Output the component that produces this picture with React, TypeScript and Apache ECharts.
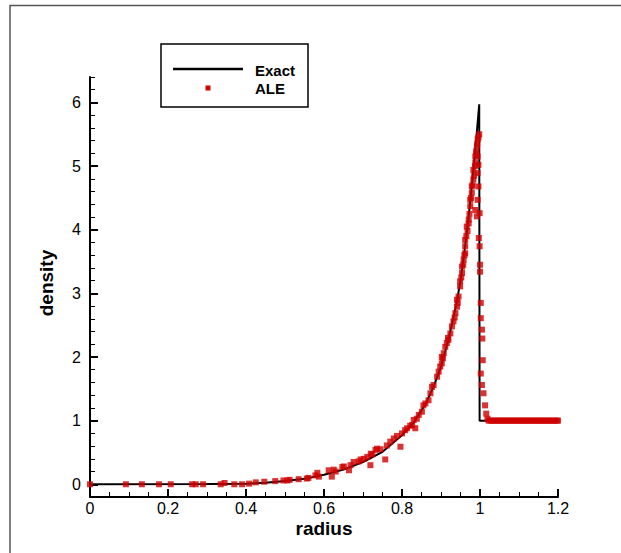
import React, { useEffect, useRef } from "react";
import * as echarts from "echarts";

const W = 621;
const H = 553;

// Axis ranges / ticks
const X_MIN = 0;
const X_MAX = 1.2;
const X_STEP = 0.2;
const Y_MIN = -0.2;
const Y_MAX = 6.4;
const Y_MINOR_STEP = 0.2;
const Y_MAJOR_STEP = 1;
const Y_MAJOR_TOP = 6;

const X_TITLE = "radius";
const Y_TITLE = "density";
const LEGEND_EXACT = "Exact";
const LEGEND_ALE = "ALE";

// Exact solution
const exactR = [0, 0.3, 0.4, 0.45, 0.5, 0.55, 0.6, 0.65, 0.7, 0.75, 0.8, 0.83, 0.86, 0.88, 0.9, 0.92, 0.94, 0.95, 0.96, 0.97, 0.98, 0.99, 0.998, 0.999, 1.2];
const exactRho = [0, 0.003, 0.01, 0.025, 0.05, 0.085, 0.15, 0.23, 0.35, 0.51, 0.77, 0.97, 1.26, 1.52, 1.85, 2.3, 2.85, 3.2, 3.65, 4.15, 4.75, 5.4, 5.97, 1.0, 1.0];

// ALE numerical points [radius, density]
const aleCore: [number, number][] = [
  [0, 0], [0.092, 0], [0.133, 0], [0.177, 0], [0.207, 0], [0.262, 0], [0.271, 0], [0.29, 0],
  [0.335, 0], [0.345, 0.02], [0.37, 0], [0.39, 0], [0.408, 0.01], [0.425, 0.03], [0.447, 0.04],
  [0.475, 0.05], [0.496, 0.06], [0.506, 0.06], [0.512, 0.07], [0.535, 0.08], [0.556, 0.09],
  [0.56, 0.1], [0.578, 0.14], [0.583, 0.18], [0.587, 0.12], [0.612, 0.22], [0.62, 0.12],
  [0.625, 0.23], [0.63, 0.2], [0.647, 0.27], [0.651, 0.28], [0.664, 0.22], [0.668, 0.3],
  [0.676, 0.35], [0.689, 0.36], [0.694, 0.39], [0.702, 0.4], [0.711, 0.43], [0.719, 0.3],
  [0.72, 0.48], [0.724, 0.47], [0.732, 0.54], [0.736, 0.56], [0.745, 0.55], [0.757, 0.39],
  [0.761, 0.61], [0.77, 0.67], [0.779, 0.72], [0.787, 0.76], [0.796, 0.59], [0.8, 0.8],
  [0.808, 0.85], [0.813, 0.88], [0.821, 0.92], [0.826, 0.93], [0.834, 0.88],
];

const aleRise: [number, number][] = [
  [0.83, 1.01], [0.838, 1.03], [0.843, 1.09], [0.851, 1.14], [0.855, 1.24], [0.86, 1.27],
  [0.868, 1.32], [0.873, 1.43], [0.877, 1.53], [0.881, 1.56], [0.89, 1.69], [0.894, 1.77],
  [0.898, 1.85], [0.902, 1.9], [0.902, 2.0], [0.905, 1.98], [0.907, 2.06], [0.911, 2.16],
  [0.915, 2.22], [0.918, 2.3], [0.919, 2.27], [0.924, 2.37], [0.928, 2.48], [0.932, 2.56],
  [0.935, 2.62], [0.937, 2.69], [0.941, 2.79], [0.941, 2.9], [0.943, 2.85], [0.945, 2.95],
  [0.949, 3.11], [0.949, 3.19], [0.952, 3.25], [0.954, 3.32], [0.954, 3.42], [0.957, 3.45],
  [0.958, 3.53], [0.96, 3.6], [0.962, 3.63], [0.962, 3.74], [0.962, 3.84], [0.965, 3.9],
  [0.966, 4.05], [0.968, 3.98], [0.971, 4.1], [0.971, 4.16], [0.973, 4.25], [0.975, 4.37],
  [0.975, 4.47], [0.977, 4.5], [0.979, 4.58], [0.979, 4.68], [0.981, 4.7], [0.983, 4.79],
  [0.983, 4.94], [0.985, 4.85], [0.987, 5.0], [0.988, 5.05], [0.988, 5.15], [0.99, 5.23],
  [0.991, 5.2], [0.992, 5.31], [0.993, 5.35], [0.994, 5.42], [0.996, 5.45], [0.998, 5.5],
  [0.994, 4.47], [0.996, 4.68], [0.999, 4.26], [0.992, 4.21], [0.988, 4.31], [0.994, 4.89],
  [0.996, 5.02], [0.994, 5.15],
];

const aleShock: [number, number][] = [
  [0.997, 3.87], [0.999, 3.74], [1.0, 3.45], [1.0, 3.34], [1.002, 2.85], [1.002, 2.61],
  [1.005, 2.43], [1.006, 2.29], [1.007, 1.95], [1.002, 1.74], [1.005, 1.56], [1.009, 1.43],
  [1.013, 1.24], [1.016, 1.11], [1.019, 1.03],
];

const alePost: [number, number][] = [
  [1.022, 1.0], [1.027, 1.0], [1.032, 1.0], [1.037, 1.0], [1.042, 1.0], [1.047, 1.0],
  [1.052, 1.0], [1.057, 1.0], [1.062, 1.0], [1.067, 1.0], [1.072, 1.0], [1.077, 1.0],
  [1.082, 1.0], [1.087, 1.0], [1.092, 1.0], [1.097, 1.0], [1.102, 1.0], [1.107, 1.0],
  [1.112, 1.0], [1.117, 1.0], [1.122, 1.0], [1.127, 1.0], [1.132, 1.0], [1.137, 1.0],
  [1.142, 1.0], [1.147, 1.0], [1.152, 1.0], [1.157, 1.0], [1.162, 1.0], [1.167, 1.0],
  [1.172, 1.0], [1.177, 1.0], [1.182, 1.0], [1.187, 1.0], [1.192, 1.0], [1.197, 1.0], [1.2, 1.0],
];

const FONT = '"Liberation Sans", Arial, Helvetica, sans-serif';
const RED = "#d00000";

export default function App() {
  const ref = useRef<HTMLDivElement>(null);

  useEffect(() => {
    if (!ref.current) return;
    const chart = echarts.init(ref.current, null, { renderer: "svg" });

    const gridLeft = 90;
    const gridRight = 63;
    const gridTop = 77;
    const gridBottom = 56;
    const plotH = H - gridTop - gridBottom;
    const pxPerUnit = plotH / (Y_MAX - Y_MIN);
    const topB = gridTop + (Y_MAX - Y_MAJOR_TOP) * pxPerUnit;
    const bottomB = gridBottom + (0 - Y_MIN) * pxPerUnit;

    const exactData = exactR.map((r, i) => [r, exactRho[i]]);
    const aleData = [...aleCore, ...aleRise, ...aleShock, ...alePost];

    const labelStyle = { color: "#000", fontFamily: FONT, fontSize: 16 };

    chart.setOption({
      animation: false,
      backgroundColor: "#fff",
      grid: [
        { left: gridLeft, right: gridRight, top: gridTop, bottom: gridBottom },
        { left: gridLeft, right: gridRight, top: topB, bottom: bottomB },
      ],
      xAxis: [
        {
          type: "value",
          gridIndex: 0,
          min: X_MIN,
          max: X_MAX,
          interval: X_STEP,
          axisLine: { show: true, onZero: false, lineStyle: { color: "#000", width: 2 } },
          axisTick: { show: true, inside: true, length: 8, lineStyle: { color: "#000", width: 2 } },
          minorTick: { show: true, splitNumber: 4, length: 5, lineStyle: { color: "#000", width: 1 } },
          axisLabel: { ...labelStyle, margin: 3 },
          splitLine: { show: false },
        },
        {
          type: "value",
          gridIndex: 1,
          min: X_MIN,
          max: X_MAX,
          show: false,
        },
      ],
      yAxis: [
        {
          type: "value",
          gridIndex: 0,
          min: Y_MIN,
          max: Y_MAX,
          interval: Y_MINOR_STEP,
          axisLine: { show: true, onZero: false, lineStyle: { color: "#000", width: 2 } },
          axisTick: { show: true, inside: true, length: 5, lineStyle: { color: "#000", width: 1 } },
          axisLabel: { show: false },
          splitLine: { show: false },
        },
        {
          type: "value",
          gridIndex: 1,
          min: 0,
          max: Y_MAJOR_TOP,
          interval: Y_MAJOR_STEP,
          axisLine: { show: false, onZero: false },
          axisTick: { show: true, inside: true, length: 8, lineStyle: { color: "#000", width: 2 } },
          axisLabel: { ...labelStyle, margin: 9 },
          splitLine: { show: false },
        },
      ],
      series: [
        {
          name: LEGEND_EXACT,
          type: "line",
          xAxisIndex: 0,
          yAxisIndex: 0,
          data: exactData,
          showSymbol: false,
          symbol: "none",
          lineStyle: { color: "#000", width: 2 },
          z: 2,
        },
        {
          name: LEGEND_ALE,
          type: "scatter",
          xAxisIndex: 0,
          yAxisIndex: 0,
          data: aleData,
          symbol: "rect",
          symbolSize: 6,
          itemStyle: { color: RED },
          z: 3,
        },
      ],
      graphic: [
        {
          type: "rect",
          z: -10,
          shape: { x: 10, y: 5.5, width: 640, height: 600 },
          style: { fill: "transparent", stroke: "#555", lineWidth: 1.5 },
        },
        {
          type: "rect",
          shape: { x: 161, y: 44, width: 147, height: 63 },
          style: { fill: "#fff", stroke: "#000", lineWidth: 1.5 },
          z: 10,
        },
        {
          type: "line",
          shape: { x1: 173, y1: 69, x2: 243, y2: 69 },
          style: { stroke: "#000", lineWidth: 2.5 },
          z: 11,
        },
        {
          type: "rect",
          shape: { x: 205.5, y: 85.5, width: 5, height: 5 },
          style: { fill: RED },
          z: 11,
        },
        {
          type: "text",
          x: 255,
          y: 70,
          z: 11,
          style: { text: LEGEND_EXACT, fill: "#000", font: `bold 15px ${FONT}`, textVerticalAlign: "middle" },
        },
        {
          type: "text",
          x: 255,
          y: 88,
          z: 11,
          style: { text: LEGEND_ALE, fill: "#000", font: `bold 15px ${FONT}`, textVerticalAlign: "middle" },
        },
        {
          type: "text",
          x: 324,
          y: 528,
          style: { text: X_TITLE, fill: "#000", font: `bold 19px ${FONT}`, textAlign: "center", textVerticalAlign: "middle" },
        },
        {
          type: "text",
          x: 46,
          y: 283,
          rotation: Math.PI / 2,
          style: { text: Y_TITLE, fill: "#000", font: `bold 19px ${FONT}`, textAlign: "center", textVerticalAlign: "middle" },
        },
      ],
    });

    return () => chart.dispose();
  }, []);

  return <div ref={ref} style={{ position: "absolute", left: 0, top: 0, width: W, height: H }} />;
}
